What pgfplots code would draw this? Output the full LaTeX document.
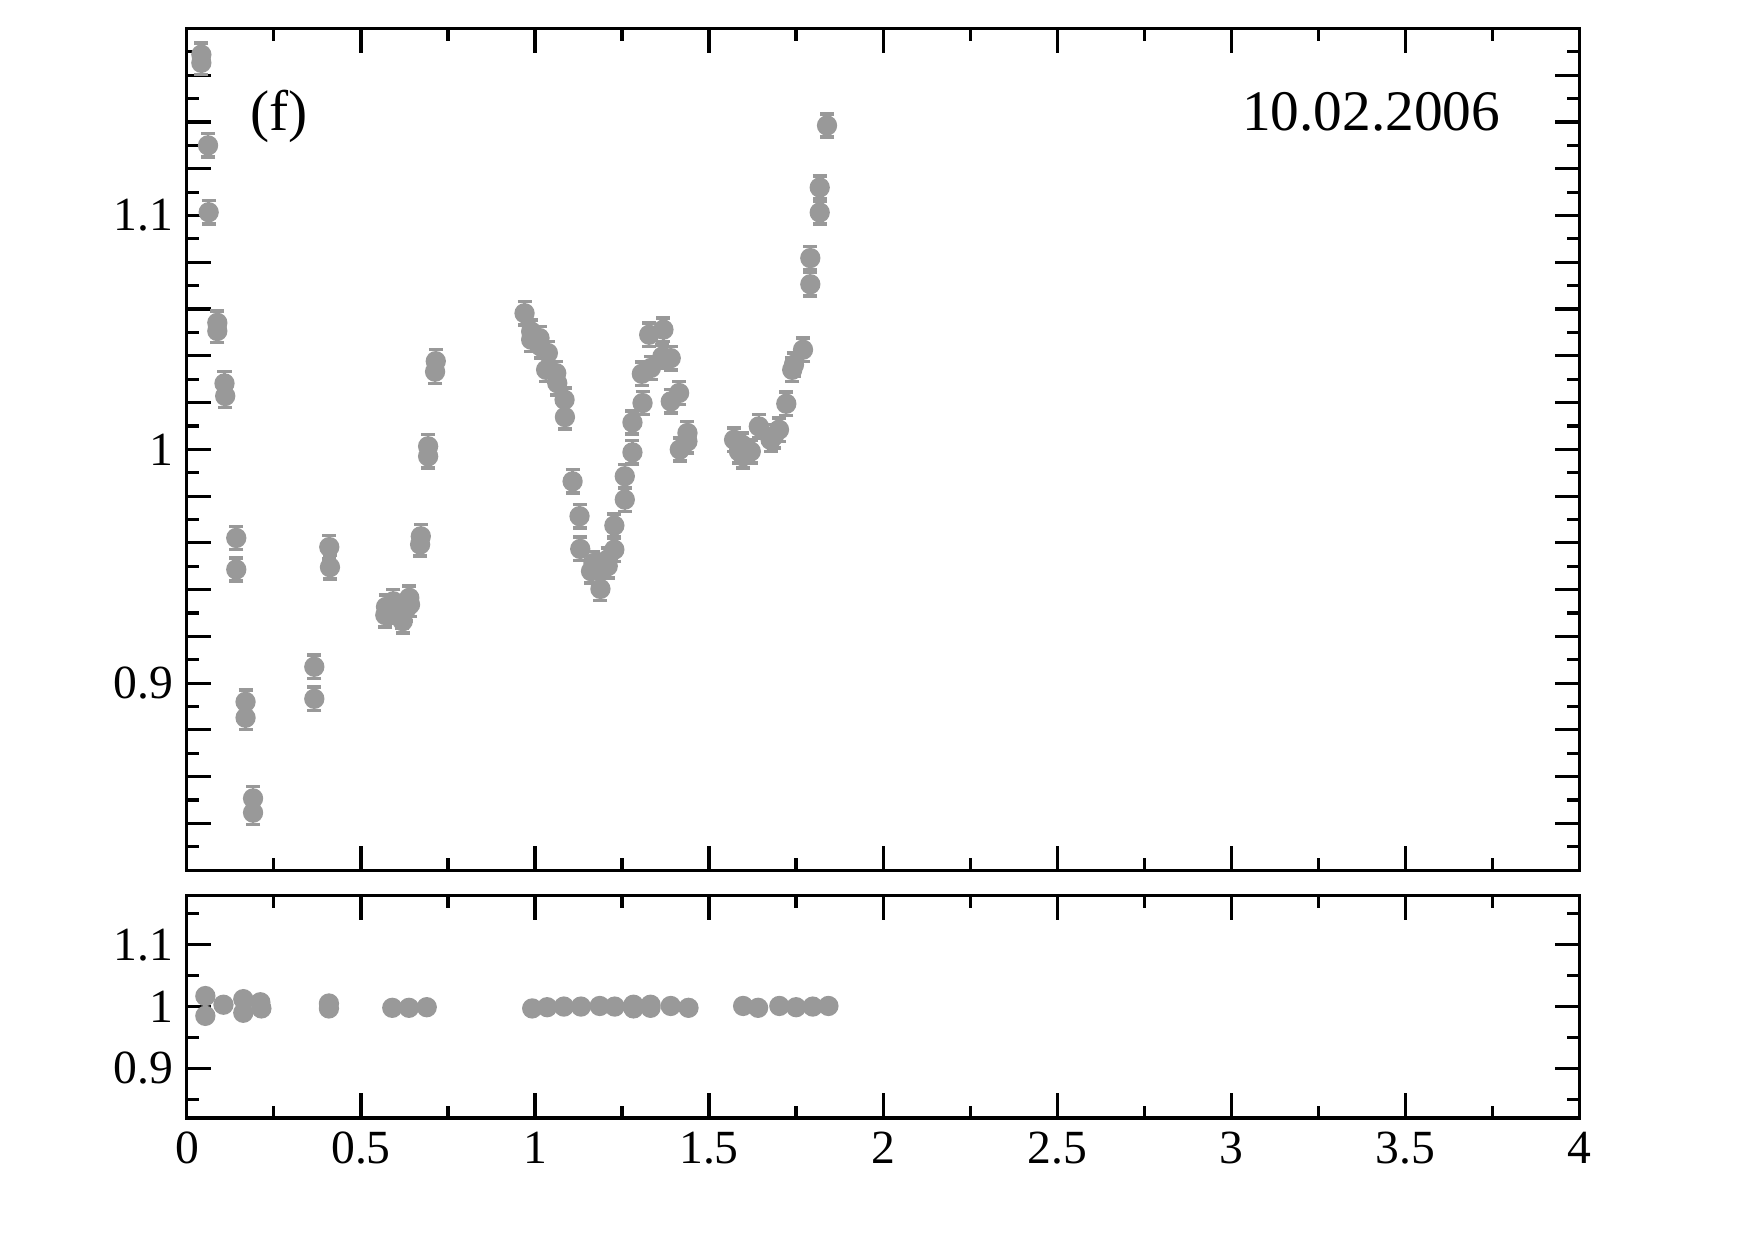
\documentclass[border=0pt]{standalone}
\usepackage{pgfplots}
\pgfplotsset{compat=1.18}
\usepackage{fontspec}
\setmainfont{Liberation Serif}
\definecolor{pts}{RGB}{153,153,153}

\begin{document}
\begin{tikzpicture}
\useasboundingbox (-47.9pt,-94.6pt) rectangle (402.1pt,223.8pt);
\pgfplotsset{
  panel/.style={
    scale only axis, width=356.8pt,
    xmin=0, xmax=4, ymin=0.82, ymax=1.18,
    axis line style={line width=0.8pt},
    tick style={line width=0.8pt, black},
    tick align=inside, xtick pos=both, ytick pos=both,
    major tick length=6.3pt, minor tick length=3.2pt,
    xtick={0,0.5,1,1.5,2,2.5,3,3.5,4}, minor x tick num=1,
    ytick={0.9,1,1.1}, yticklabels={0.9,1,1.1},
    tick label style={font=\fontsize{12.2}{13}\selectfont},
  },
  pts/.style={
    only marks, mark=*, mark size=2.4pt, color=pts,
    mark options={draw=none, fill=pts},
  },
}

% upper panel: data
\begin{axis}[panel, at={(0,0.8pt)}, anchor=south west, height=215.7pt,
  xticklabels={},
  extra y ticks={0.84,0.86,0.88,0.92,0.94,0.96,0.98,1.02,1.04,1.06,1.08,1.12,1.14,1.16},
  extra y tick labels={},
  minor ytick={0.83,0.85,0.87,0.89,0.91,0.93,0.95,0.97,0.99,1.01,1.03,1.05,1.07,1.09,1.11,1.13,1.15,1.17},
]
\addplot[pts, error bars/.cd, y dir=both, y fixed=0.005,
  error bar style={line width=0.6pt, pts},
  error mark options={rotate=90, mark size=1.8pt, line width=0.9pt, pts}]
coordinates {
  (0.0415,1.1688)(0.0415,1.1653)(0.0607,1.1300)(0.0625,1.1014)
  (0.0874,1.0541)(0.0874,1.0506)(0.108,1.0282)(0.110,1.0228)
  (0.1418,0.9621)(0.1418,0.9486)(0.1685,0.8920)(0.1685,0.8852)
  (0.190,0.8507)(0.190,0.8446)(0.366,0.9070)(0.366,0.8933)
  (0.409,0.9582)(0.411,0.9496)
  (0.570,0.9291)(0.572,0.9326)(0.593,0.9350)(0.596,0.9308)(0.618,0.9286)
  (0.620,0.9265)(0.629,0.9315)(0.639,0.9365)(0.641,0.9336)
  (0.670,0.9593)(0.672,0.9628)(0.693,1.0013)(0.693,0.9970)
  (0.713,1.0332)(0.715,1.0377)
  (0.970,1.0582)(0.989,1.0504)(0.989,1.0469)(1.013,1.0476)(1.016,1.0440)
  (1.037,1.0412)(1.032,1.0340)(1.061,1.0326)(1.064,1.0283)(1.085,1.0212)
  (1.086,1.0138)(1.108,0.9863)(1.128,0.9714)(1.130,0.9574)(1.161,0.9479)
  (1.168,0.9514)(1.188,0.9500)(1.188,0.9403)(1.209,0.9500)(1.209,0.9529)
  (1.228,0.9571)(1.228,0.9674)(1.258,0.9785)(1.258,0.9885)(1.280,0.9987)
  (1.280,1.0115)(1.307,1.0323)(1.309,1.0198)(1.333,1.0348)(1.328,1.0490)
  (1.369,1.0512)(1.366,1.0397)(1.390,1.0390)(1.390,1.0205)(1.414,1.0241)
  (1.416,0.9999)(1.438,1.0070)(1.438,1.0034)
  (1.572,1.0041)(1.586,0.9991)(1.595,1.0020)(1.598,0.9970)(1.620,0.9991)
  (1.643,1.0098)(1.677,1.0040)(1.686,1.0056)(1.701,1.0084)(1.722,1.0195)
  (1.739,1.0340)(1.744,1.0362)(1.770,1.0426)(1.791,1.0706)(1.791,1.0818)
  (1.818,1.1013)(1.818,1.1120)(1.839,1.1385)
};
\node[anchor=base west, inner sep=0pt, font=\fontsize{14.7}{15}\selectfont]
  at (axis cs:0.18,1.1364) {(f)};
\node[anchor=base east, inner sep=0pt, font=\fontsize{14.7}{15}\selectfont]
  at (axis cs:3.775,1.1364) {10.02.2006};
\end{axis}

% lower panel: ratio
\begin{axis}[panel, at={(0,-5.6pt)}, anchor=north west, height=57.1pt,
  xticklabels={0,0.5,1,1.5,2,2.5,3,3.5,4},
  minor ytick={0.85,0.95,1.05,1.15},
]
\addplot[pts] coordinates {
  (0.053,1.017)(0.053,0.985)(0.105,1.003)(0.162,1.012)(0.162,0.990)
  (0.211,1.007)(0.214,0.997)(0.408,1.005)(0.408,0.997)
  (0.590,0.998)(0.638,0.998)(0.689,0.999)
  (0.992,0.997)(1.035,0.999)(1.083,1.000)(1.132,1.000)(1.186,1.001)
  (1.229,1.000)(1.283,1.003)(1.283,0.997)(1.332,1.003)(1.332,0.998)
  (1.390,1.001)(1.441,0.998)
  (1.598,1.001)(1.641,0.998)(1.702,1.001)(1.750,0.999)(1.798,1.000)
  (1.843,1.001)
};
\end{axis}
\end{tikzpicture}
\end{document}
